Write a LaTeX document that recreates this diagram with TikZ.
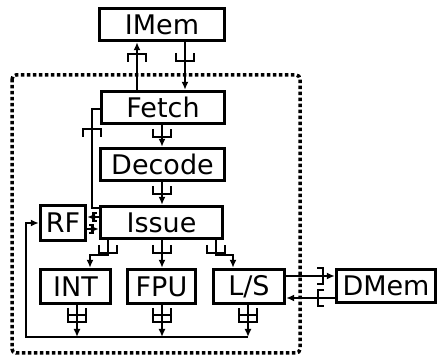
\documentclass[tikz,border=0pt]{standalone}
\usepackage{fontspec}
\setmainfont{DejaVu Sans}
\usetikzlibrary{arrows.meta}

% queue symbols, drawn around a connector
\newcommand\qdown[2]{\draw[qline] (#1-9,#2) -- (#1-9,#2+8) -- (#1+9,#2+8) -- (#1+9,#2);}
\newcommand\qup[2]{\draw[qline] (#1-9,#2+8) -- (#1-9,#2) -- (#1+9,#2) -- (#1+9,#2+8);}
\newcommand\qdeep[2]{\draw[qline] (#1-9,#2) -- (#1-9,#2+14) -- (#1+9,#2+14) -- (#1+9,#2);
  \draw[qline] (#1-9,#2+7) -- (#1+9,#2+7);}
\newcommand\qright[2]{\draw[qline] (#1,#2-8) -- (#1+6,#2-8) -- (#1+6,#2+8) -- (#1,#2+8);}
\newcommand\qleft[2]{\draw[qline] (#1,#2-8) -- (#1-6,#2-8) -- (#1-6,#2+8) -- (#1,#2+8);}

\begin{document}
\begin{tikzpicture}[x=1pt,y=-1pt,
  unit/.style={draw, line width=3.4pt, inner sep=0pt,
    font=\fontsize{27}{32}\selectfont},
  wire/.style={line width=1.7pt, -{Latex[length=8pt,width=7pt]}},
  plain/.style={line width=1.7pt},
  qline/.style={line width=1.5pt},
  core/.style={line width=3.5pt, dash pattern=on 3.5pt off 2.5pt, rounded corners=4pt}]
\useasboundingbox (0,0) rectangle (440,358);

% core boundary
\draw[core] (12,75) rectangle (300,353);

% units
\node[unit, minimum width=125pt, minimum height=32pt] (imem) at (162,24.5) {IMem};
\node[unit, minimum width=123pt, minimum height=32pt] (fetch) at (163,107.5) {Fetch};
\node[unit, minimum width=124pt, minimum height=32pt] (decode) at (162.5,164.5) {Decode};
\node[unit, minimum width=122pt, minimum height=32pt] (issue) at (161.5,222.5) {Issue};
\node[unit, minimum width=45pt, minimum height=35pt] (rf) at (63,223) {RF};
\node[unit, minimum width=70pt, minimum height=34pt] (int) at (75.5,286.5) {INT};
\node[unit, minimum width=68pt, minimum height=34pt] (fpu) at (161.5,286.5) {FPU};
\node[unit, minimum width=71pt, minimum height=34pt] (ls) at (249,286.5) {L/S};
\node[unit, minimum width=99pt, minimum height=33pt] (dmem) at (386,286) {DMem};

% instruction memory
\draw[wire] (137,0 |- fetch.north) -- (137,0 |- imem.south);
\qup{137}{54}
\draw[wire] (185,0 |- imem.south) -- (185,0 |- fetch.north);
\qdown{185}{53}

% front end
\draw[wire] (162,0 |- fetch.south) -- (162,0 |- decode.north);
\qdown{162}{129}
\draw[wire] (162,0 |- decode.south) -- (162,0 |- issue.north);
\qdown{162}{186}

% branch redirect from issue to fetch
\draw[plain] (issue.west |- 0,208) -- (92,208) -- (92,109) -- (fetch.west |- 0,109);
\qup{92}{129}

% register file
\draw[wire] (issue.west |- 0,217) -- (rf.east |- 0,217);
\draw[qline] (97,213) -- (93,213) -- (93,221) -- (97,221);
\draw[wire] (rf.east |- 0,229) -- (issue.west |- 0,229);
\draw[qline] (89,225) -- (93,225) -- (93,233) -- (89,233);

% dispatch to execution units
\draw[wire] (108,0 |- issue.south) -- (108,255) -- (90,255) -- (90,0 |- int.north);
\qdown{108}{245}
\draw[wire] (162,0 |- issue.south) -- (162,0 |- fpu.north);
\qdown{162}{245}
\draw[wire] (216,0 |- issue.south) -- (216,255) -- (233,255) -- (233,0 |- ls.north);
\qdown{216}{245}

% data memory
\draw[wire] (ls.east |- 0,276) -- (dmem.west |- 0,276);
\qright{317}{276}
\draw[wire] (dmem.west |- 0,298) -- (ls.east |- 0,298);
\qleft{324}{298}

% write-back bus
\coordinate (wbend) at (248,337);
\draw[wire] (77,0 |- int.south) -- (77,337);
\qdeep{77}{308}
\draw[wire] (162,0 |- fpu.south) -- (162,337);
\qdeep{162}{308}
\draw[wire] (248,0 |- ls.south) -- (wbend);
\qdeep{248}{308}
\draw[wire] (wbend) -- (26,337) -- (26,223) -- (rf.west |- 0,223);
\end{tikzpicture}
\end{document}
